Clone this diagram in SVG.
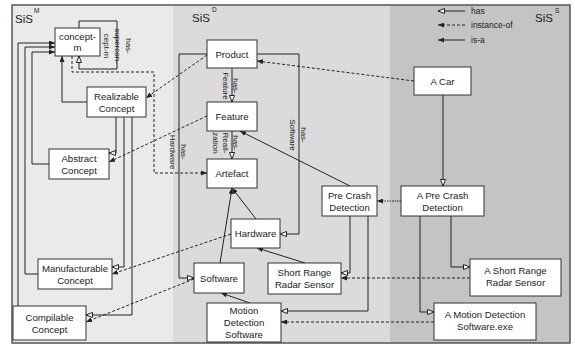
<svg xmlns="http://www.w3.org/2000/svg" width="575" height="345" viewBox="0 0 575 345">
<style>
.node rect{fill:#fff;stroke:#333;stroke-width:1}
.node text{font-family:"Liberation Sans",Arial,sans-serif;font-size:9.6px;fill:#222;text-anchor:middle}
.lbl{font-family:"Liberation Sans",Arial,sans-serif;font-size:8px;fill:#222;text-anchor:middle}
.leg{font-family:"Liberation Sans",Arial,sans-serif;font-size:8.5px;fill:#222}
.ttl{font-family:"Liberation Sans",Arial,sans-serif;font-size:11.5px;fill:#222}
.sup{font-family:"Liberation Sans",Arial,sans-serif;font-size:6.5px;fill:#222}
.has{fill:none;stroke:#222;stroke-width:1;marker-end:url(#open)}
.isa{fill:none;stroke:#222;stroke-width:1;marker-end:url(#fill)}
.inst{fill:none;stroke:#222;stroke-width:1;stroke-dasharray:3 2;marker-end:url(#fill)}
</style>
<defs>
<marker id="open" viewBox="0 0 8 6" refX="7" refY="3" markerWidth="8" markerHeight="6" markerUnits="userSpaceOnUse" orient="auto">
<path d="M0.5,0.5 L7,3 L0.5,5.5 z" fill="#fff" stroke="#222" stroke-width="1"/>
</marker>
<marker id="fill" viewBox="0 0 6 5" refX="6" refY="2.5" markerWidth="6" markerHeight="5" markerUnits="userSpaceOnUse" orient="auto">
<path d="M0,0 L6,2.5 L0,5 z" fill="#222"/>
</marker>
</defs>
<rect x="0" y="0" width="575" height="345" fill="#fff"/>
<g id="regions">
<rect x="12" y="5" width="161" height="338" fill="#eaeaea"/>
<rect x="173" y="5" width="217" height="338" fill="#dbdbdb"/>
<rect x="390" y="5" width="180" height="338" fill="#c4c4c4"/>
<rect x="12" y="5" width="558" height="338" fill="none" stroke="#555" stroke-width="1.5"/>
<text class="ttl" x="15" y="23">SiS</text><text class="sup" x="34" y="13">M</text>
<text class="ttl" x="192" y="22">SiS</text><text class="sup" x="212" y="12">D</text>
<text class="ttl" x="535" y="22">SiS</text><text class="sup" x="555" y="13">S</text>
</g>
<g id="legend">
<path class="has" d="M465,11 H438"/>
<path class="inst" d="M465,25 H438"/>
<path class="isa" d="M465,40 H438"/>
<text class="leg" x="471" y="14">has</text>
<text class="leg" x="471" y="28">instance-of</text>
<text class="leg" x="471" y="43">is-a</text>
</g>
<g id="connectors">
<path class="has" d="M79,28 V21 H117 V69 H79 V56"/>
<path class="has" d="M232,68 V102"/>
<path class="has" d="M232,131 V159"/>
<path class="has" d="M257,54 H299 V234 H280"/>
<path class="has" d="M207,54 H179 V278 H194"/>
<path class="has" d="M350,216 V273 H341"/>
<path class="has" d="M368,216 V311 H281"/>
<path class="has" d="M443,95 V186"/>
<path class="has" d="M420,216 V312 H434"/>
<path class="has" d="M451,216 V267 H470"/>
<path class="has" d="M116,117 V153 H109"/>
<path class="has" d="M124,117 V267 H112"/>
<path class="has" d="M132,117 V315 H86"/>
<path class="isa" d="M18,306 V43 H55"/>
<path class="isa" d="M38,274 H25 V47 H55"/>
<path class="isa" d="M49,164 H32 V52 H55"/>
<path class="isa" d="M87,102 H62 V56"/>
<path class="isa" d="M350,186 L240,131"/>
<path class="isa" d="M256,219 L232,188"/>
<path class="isa" d="M220,263 L232,188"/>
<path class="isa" d="M305,263 L257,248"/>
<path class="isa" d="M250,303 L221,293"/>
<path class="inst" d="M72,56 V72 H154 V173 H207"/>
<path class="inst" d="M207,55 L146,98"/>
<path class="inst" d="M207,116 L109,162"/>
<path class="inst" d="M231,234 L112,274"/>
<path class="inst" d="M194,279 L86,322"/>
<path class="inst" d="M414,81 L257,61"/>
<path class="inst" d="M401,201 H377" style="stroke-dasharray:1.5 1"/>
<path class="inst" d="M470,278 H341"/>
<path class="inst" d="M434,322 H281"/>
<text class="lbl" transform="translate(126,46) rotate(90)">has-</text>
<text class="lbl" transform="translate(115,46) rotate(90)">supercon-</text>
<text class="lbl" transform="translate(104,46) rotate(90)">cept-m</text>
<text class="lbl" transform="translate(233,86) rotate(90)">has-</text>
<text class="lbl" transform="translate(223,86) rotate(90)">Feature</text>
<text class="lbl" transform="translate(233,143) rotate(90)">has-</text>
<text class="lbl" transform="translate(223,143) rotate(90)">Reali-</text>
<text class="lbl" transform="translate(213,143) rotate(90)">zation</text>
<text class="lbl" transform="translate(300.5,135) rotate(90)">has-</text>
<text class="lbl" transform="translate(290,135) rotate(90)">Software</text>
<text class="lbl" transform="translate(181,152) rotate(90)">has-</text>
<text class="lbl" transform="translate(170,152) rotate(90)">Hardware</text>
</g>
<g id="concept-m" class="node"><rect x="55" y="28" width="45" height="28"/><text x="77.5" y="40">concept-</text><text x="77.5" y="51">m</text></g>
<g id="realizable" class="node"><rect x="87" y="87" width="59" height="30"/><text x="116.5" y="99.5">Realizable</text><text x="116.5" y="111.5">Concept</text></g>
<g id="abstract" class="node"><rect x="49" y="149" width="60" height="30"/><text x="79" y="161.5">Abstract</text><text x="79" y="173.5">Concept</text></g>
<g id="manufacturable" class="node"><rect x="38" y="259" width="74" height="30"/><text x="75" y="271.5">Manufacturable</text><text x="75" y="283.5">Concept</text></g>
<g id="compilable" class="node"><rect x="13" y="306" width="73" height="34"/><text x="49.5" y="320.5">Compilable</text><text x="49.5" y="332.5">Concept</text></g>
<g id="product" class="node"><rect x="207" y="40" width="50" height="28"/><text x="232" y="57.5">Product</text></g>
<g id="feature" class="node"><rect x="207" y="102" width="50" height="29"/><text x="232" y="120">Feature</text></g>
<g id="artefact" class="node"><rect x="207" y="159" width="50" height="29"/><text x="232" y="177">Artefact</text></g>
<g id="hardware" class="node"><rect x="231" y="219" width="49" height="29"/><text x="255.5" y="237">Hardware</text></g>
<g id="software" class="node"><rect x="194" y="263" width="50" height="30"/><text x="219" y="281.5">Software</text></g>
<g id="srrs" class="node"><rect x="268" y="263" width="73" height="31"/><text x="304.5" y="276">Short Range</text><text x="304.5" y="288">Radar Sensor</text></g>
<g id="mds" class="node"><rect x="207" y="303" width="74" height="39"/><text x="244" y="313.5">Motion</text><text x="244" y="325.5">Detection</text><text x="244" y="337.5">Software</text></g>
<g id="pcd" class="node"><rect x="322" y="186" width="55" height="30"/><text x="349.5" y="198.5">Pre Crash</text><text x="349.5" y="210.5">Detection</text></g>
<g id="a-car" class="node"><rect x="414" y="67" width="57" height="28"/><text x="442.5" y="84.5">A Car</text></g>
<g id="a-pcd" class="node"><rect x="401" y="186" width="83" height="30"/><text x="442.5" y="198.5">A Pre Crash</text><text x="442.5" y="210.5">Detection</text></g>
<g id="a-srrs" class="node"><rect x="470" y="259" width="91" height="37"/><text x="515.5" y="274">A Short Range</text><text x="515.5" y="286">Radar Sensor</text></g>
<g id="a-mds" class="node"><rect x="434" y="303" width="102" height="37"/><text x="485" y="318">A Motion Detection</text><text x="485" y="330">Software.exe</text></g>
</svg>
